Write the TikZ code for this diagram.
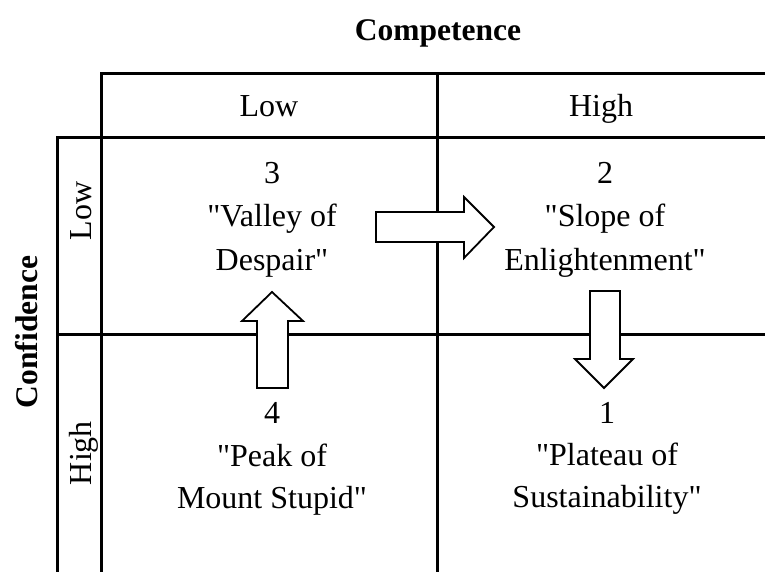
\documentclass[tikz,border=0pt]{standalone}
\usepackage{fontspec}
\setmainfont{Liberation Serif}[Ligatures=TeXOff]
\begin{document}
\begin{tikzpicture}[x=1pt,y=-1pt,
  grid/.style={line width=3pt, line join=miter},
  bigarrow/.style={draw=black, fill=white, line width=1.8pt, line join=miter},
  txt/.style={anchor=base, inner sep=0pt, font=\fontsize{32}{43.5}\selectfont},
  hdr/.style={anchor=base, inner sep=0pt, font=\fontsize{31.5}{43.5}\selectfont\bfseries}]
\useasboundingbox (0,0) rectangle (765,572);
\fill[white] (0,0) rectangle (765,572);
% grid
\draw[grid] (101,572) -- (101,74) -- (765,74);
\draw[grid] (57,572) -- (57,138) -- (765,138);
\draw[grid] (57,334) -- (765,334);
\draw[grid] (437,74) -- (437,572);
% headers
\node[hdr] (comp) at (438,41) {Competence};
\node[hdr, rotate=90] (conf) at (37,332) {Confidence};
\node[txt] (clow) at (269,117) {Low};
\node[txt] (chigh) at (601,117) {High};
\node[txt, rotate=90] (rlow) at (91,211) {Low};
\node[txt, rotate=90] (rhigh) at (91,453) {High};
% cell 3
\node[txt] (n3) at (272,183) {3};
\node[txt] (n3a) at (272,226) {"Valley of};
\node[txt] (n3b) at (272,270) {Despair"};
% cell 2
\node[txt] (n2) at (605,183) {2};
\node[txt] (n2a) at (605,226) {"Slope of};
\node[txt] (n2b) at (605,270) {Enlightenment"};
% cell 4
\node[txt] (n4) at (272,423) {4};
\node[txt] (n4a) at (272,466) {"Peak of};
\node[txt] (n4b) at (272,508) {Mount Stupid"};
% cell 1
\node[txt] (n1) at (607,423) {1};
\node[txt] (n1a) at (607,465) {"Plateau of};
\node[txt] (n1b) at (607,507) {Sustainability"};
% arrows
\draw[bigarrow] (257,388) -- (257,321) -- (242,321) -- (272,292) -- (303,321) -- (288,321) -- (288,388) -- cycle;
\draw[bigarrow] (376,212) -- (464,212) -- (464,197) -- (494,227) -- (464,258) -- (464,242) -- (376,242) -- cycle;
\draw[bigarrow] (590,291) -- (620,291) -- (620,359) -- (633,359) -- (604,388) -- (575,359) -- (590,359) -- cycle;
\end{tikzpicture}
\end{document}
